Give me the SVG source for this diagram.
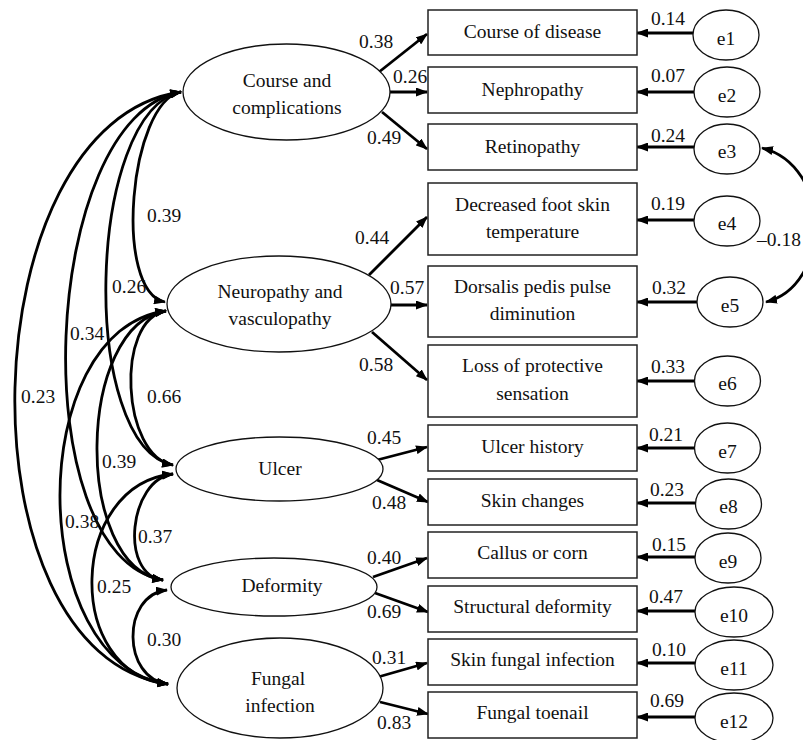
<svg xmlns="http://www.w3.org/2000/svg" width="803" height="740" viewBox="0 0 803 740">
<style>
text{font-family:"Liberation Serif","Times New Roman",serif;font-size:19.5px;fill:#111}
.c{text-anchor:middle}
.box{fill:#fff;stroke:#222;stroke-width:1.5}
.lat{fill:#fff;stroke:#111;stroke-width:1.3}
.err{fill:#fff;stroke:#111;stroke-width:1.3}
.ar{fill:none;stroke:#000;stroke-width:2.8;marker-end:url(#ah)}
.cv{fill:none;stroke:#000;stroke-width:2.8;marker-start:url(#ah);marker-end:url(#ah)}
</style>
<defs>
<marker id="ah" viewBox="0 0 12 9" refX="11" refY="4.5" markerWidth="12" markerHeight="9" markerUnits="userSpaceOnUse" orient="auto-start-reverse">
<path d="M0,0 L12,4.5 L0,9 z" fill="#000"/>
</marker>
</defs>
<rect width="803" height="740" fill="#fff"/>

<g id="connectors">
<path class="ar" d="M379,72 L427,34"/>
<path class="ar" d="M390,92 L427,92"/>
<path class="ar" d="M382,112 L427,149"/>
<path class="ar" d="M369,275 L427,217"/>
<path class="ar" d="M391,305 L427,305"/>
<path class="ar" d="M372,332 L427,380"/>
<path class="ar" d="M377,460 L427,447"/>
<path class="ar" d="M377,480 L428,502"/>
<path class="ar" d="M373,577 L427,558"/>
<path class="ar" d="M375,593 L428,612"/>
<path class="ar" d="M378,677 L427,663"/>
<path class="ar" d="M380,702 L428,714"/>
<path class="ar" d="M693,33 L637,33"/>
<path class="ar" d="M694,92 L637,92"/>
<path class="ar" d="M694,147 L637,147"/>
<path class="ar" d="M694,220 L637,220"/>
<path class="ar" d="M697,302 L637,302"/>
<path class="ar" d="M694,381 L637,381"/>
<path class="ar" d="M694,448 L637,448"/>
<path class="ar" d="M695,503 L637,503"/>
<path class="ar" d="M695,557 L637,557"/>
<path class="ar" d="M695,611 L637,611"/>
<path class="ar" d="M695,663 L637,663"/>
<path class="ar" d="M695,717 L637,717"/>
<path class="cv" d="M762,148 C832,165 832,285 766,302"/>
<path class="cv" d="M181,92 C-31.7,122 -44.7,654 168,684"/>
<path class="cv" d="M181,92 C39.7,116 21.7,556 163,580"/>
<path class="cv" d="M181,92 C86.3,111 78.3,446 173,465"/>
<path class="cv" d="M181,92 C129,102 113,292 165,302"/>
<path class="cv" d="M166,311 C114.7,319 121.7,457 173,465"/>
<path class="cv" d="M166,311 C76,324 73,567 163,580"/>
<path class="cv" d="M166,311 C23.3,330 25.3,665 168,684"/>
<path class="cv" d="M173,474 C129,479 119,575 163,580"/>
<path class="cv" d="M173,474 C68.3,484 63.3,674 168,684"/>
<path class="cv" d="M167,590 C121,595 122,679 168,684"/>
</g>

<g id="labels">
<text x="359" y="48">0.38</text>
<text x="393" y="83">0.26</text>
<text x="367" y="144">0.49</text>
<text x="355" y="244">0.44</text>
<text x="390" y="294">0.57</text>
<text x="359" y="371">0.58</text>
<text x="367" y="444">0.45</text>
<text x="372" y="509">0.48</text>
<text x="367" y="564">0.40</text>
<text x="367" y="618">0.69</text>
<text x="372" y="664">0.31</text>
<text x="377" y="729">0.83</text>
<text class="c" x="668" y="25">0.14</text>
<text class="c" x="668" y="82">0.07</text>
<text class="c" x="668" y="142">0.24</text>
<text class="c" x="668" y="210">0.19</text>
<text class="c" x="669" y="294">0.32</text>
<text class="c" x="668" y="373">0.33</text>
<text class="c" x="666" y="441">0.21</text>
<text class="c" x="667" y="496">0.23</text>
<text class="c" x="669" y="551">0.15</text>
<text class="c" x="666" y="603">0.47</text>
<text class="c" x="669" y="656">0.10</text>
<text class="c" x="667" y="707">0.69</text>
<text x="757" y="246">–0.18</text>
<text x="147" y="222">0.39</text>
<text x="112" y="293">0.26</text>
<text x="70" y="340">0.34</text>
<text x="21" y="403">0.23</text>
<text x="147" y="403">0.66</text>
<text x="102" y="468">0.39</text>
<text x="65" y="528">0.38</text>
<text x="138" y="543">0.37</text>
<text x="97" y="593">0.25</text>
<text x="147" y="646">0.30</text>
</g>

<g id="course">
<ellipse class="lat" cx="286.5" cy="92" rx="103.5" ry="48"/>
<text class="c" x="287" y="87">Course and</text>
<text class="c" x="287" y="114">complications</text>
</g>
<g id="neuropathy">
<ellipse class="lat" cx="279" cy="304" rx="112" ry="48"/>
<text class="c" x="280" y="298">Neuropathy and</text>
<text class="c" x="280" y="325">vasculopathy</text>
</g>
<g id="ulcer">
<ellipse class="lat" cx="279.5" cy="469" rx="103.5" ry="32"/>
<text class="c" x="280" y="475">Ulcer</text>
</g>
<g id="deformity">
<ellipse class="lat" cx="274" cy="587" rx="103" ry="29"/>
<text class="c" x="282" y="592">Deformity</text>
</g>
<g id="fungal">
<ellipse class="lat" cx="280" cy="688" rx="103" ry="50"/>
<text class="c" x="278" y="685">Fungal</text>
<text class="c" x="280" y="712">infection</text>
</g>

<g id="box1"><rect class="box" x="428" y="10" width="209" height="45"/><text class="c" x="532.5" y="38">Course of disease</text></g>
<g id="box2"><rect class="box" x="428" y="67" width="209" height="46"/><text class="c" x="532.5" y="96">Nephropathy</text></g>
<g id="box3"><rect class="box" x="428" y="124" width="209" height="46"/><text class="c" x="532.5" y="153">Retinopathy</text></g>
<g id="box4"><rect class="box" x="428" y="183" width="209" height="72"/><text class="c" x="532.5" y="211">Decreased foot skin</text><text class="c" x="532.5" y="238">temperature</text></g>
<g id="box5"><rect class="box" x="428" y="266" width="209" height="71"/><text class="c" x="532.5" y="293">Dorsalis pedis pulse</text><text class="c" x="532.5" y="320">diminution</text></g>
<g id="box6"><rect class="box" x="428" y="345" width="209" height="72"/><text class="c" x="532.5" y="372">Loss of protective</text><text class="c" x="532.5" y="400">sensation</text></g>
<g id="box7"><rect class="box" x="428" y="425" width="209" height="46"/><text class="c" x="532.5" y="453">Ulcer history</text></g>
<g id="box8"><rect class="box" x="428" y="479" width="209" height="46"/><text class="c" x="532.5" y="507">Skin changes</text></g>
<g id="box9"><rect class="box" x="428" y="532" width="209" height="46"/><text class="c" x="532.5" y="559">Callus or corn</text></g>
<g id="box10"><rect class="box" x="428" y="586" width="209" height="46"/><text class="c" x="532.5" y="613">Structural deformity</text></g>
<g id="box11"><rect class="box" x="428" y="639" width="209" height="46"/><text class="c" x="532.5" y="666">Skin fungal infection</text></g>
<g id="box12"><rect class="box" x="428" y="692" width="209" height="46"/><text class="c" x="532.5" y="719">Fungal toenail</text></g>

<g id="e1"><ellipse class="err" cx="726" cy="35" rx="33" ry="25"/><text class="c" x="726" y="45">e1</text></g>
<g id="e2"><ellipse class="err" cx="727" cy="92" rx="33" ry="25"/><text class="c" x="727" y="102">e2</text></g>
<g id="e3"><ellipse class="err" cx="727" cy="149" rx="33" ry="25"/><text class="c" x="727" y="158">e3</text></g>
<g id="e4"><ellipse class="err" cx="727" cy="221" rx="33" ry="25"/><text class="c" x="727" y="230">e4</text></g>
<g id="e5"><ellipse class="err" cx="730" cy="302" rx="33" ry="25"/><text class="c" x="730" y="312">e5</text></g>
<g id="e6"><ellipse class="err" cx="727.5" cy="381" rx="33" ry="25"/><text class="c" x="727.5" y="390">e6</text></g>
<g id="e7"><ellipse class="err" cx="727.5" cy="448" rx="33" ry="25"/><text class="c" x="727.5" y="458">e7</text></g>
<g id="e8"><ellipse class="err" cx="728.5" cy="504" rx="33" ry="25"/><text class="c" x="728.5" y="513">e8</text></g>
<g id="e9"><ellipse class="err" cx="728" cy="558" rx="33" ry="25"/><text class="c" x="728" y="568">e9</text></g>
<g id="e10"><ellipse class="err" cx="734" cy="612" rx="39" ry="25"/><text class="c" x="734" y="622">e10</text></g>
<g id="e11"><ellipse class="err" cx="734" cy="665" rx="39" ry="25"/><text class="c" x="734" y="675">e11</text></g>
<g id="e12"><ellipse class="err" cx="734" cy="718" rx="39" ry="25"/><text class="c" x="734" y="728">e12</text></g>
</svg>
